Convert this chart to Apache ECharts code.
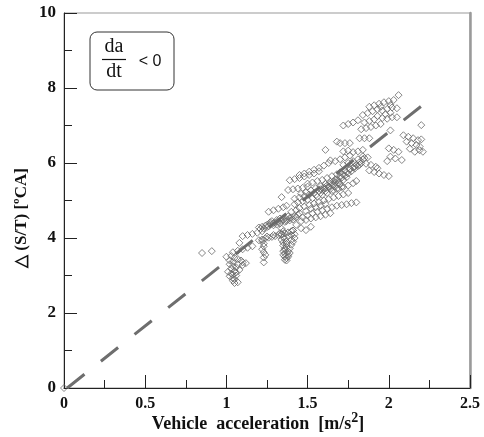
<!DOCTYPE html>
<html>
<head>
<meta charset="utf-8">
<script src="https://cdn.jsdelivr.net/npm/echarts@6/dist/echarts.min.js"></script>
<style>
html,body{margin:0;padding:0;background:#fff;}
#chart{width:484px;height:437px;}
</style>
</head>
<body>
<div id="chart"></div>
<script>
// Axis ranges and tick steps
const xTicks = [0, 0.5, 1, 1.5, 2, 2.5];
const yTicks = [0, 2, 4, 6, 8, 10];

// Fitted trend line end points [acceleration, delta S/T]
const trendLine = [[0.02, 0], [2.21, 7.55]];

// Measured points, grouped by streak
const originPoint = [[0, 0]];
const lowLeft = [[0.85, 3.60], [0.91, 3.65]];
const clusterLow = [
  [1.00,3.50],[1.03,3.52],[1.05,3.47],[1.07,3.44],[1.09,3.40],[1.10,3.35],[1.02,3.30],[1.04,3.25],
  [1.06,3.22],[1.03,3.18],[1.05,3.12],[1.01,3.10],[1.03,3.05],[1.06,3.08],[1.08,3.15],[1.02,2.98],
  [1.04,2.93],[1.06,3.00],[1.04,2.86],[1.07,2.82],[1.05,2.80],[1.10,3.28],[1.12,3.33],
  [1.02,3.40],[1.04,3.36],[1.07,3.30],[1.04,3.02],[1.05,2.90]
];
const rowA = [[1.04,3.62],[1.07,3.66],[1.10,3.70],[1.13,3.74],[1.16,3.78],[1.08,3.87]];
const rowB = [[1.10,4.05],[1.13,4.08],[1.16,4.11],[1.19,4.14],[1.22,4.18]];
const darkBandUpper = [
  [1.20,4.28],[1.22,4.30],[1.24,4.33],[1.25,4.35],[1.27,4.37],[1.29,4.40],[1.30,4.41],[1.32,4.44],
  [1.34,4.46],[1.35,4.48],[1.37,4.50],[1.39,4.53],[1.40,4.55],[1.42,4.58],[1.44,4.62],[1.45,4.66],
  [1.23,4.25],[1.26,4.31],[1.31,4.36],[1.36,4.43],[1.41,4.49],[1.28,4.45],[1.33,4.52],[1.38,4.58],
  [1.21,4.24],[1.25,4.29],[1.29,4.34],[1.33,4.39],[1.37,4.45],[1.39,4.47],[1.43,4.55],[1.27,4.42],[1.31,4.48]
];
const darkBandLower = [
  [1.20,3.94],[1.22,3.96],[1.24,3.99],[1.26,4.01],[1.28,4.03],[1.30,4.05],[1.32,4.08],[1.34,4.10],
  [1.36,4.12],[1.38,4.15],[1.40,4.18],[1.41,4.20],[1.25,4.04],[1.29,4.08],[1.33,4.13]
];
const dropA = [[1.22,3.92],[1.23,3.85],[1.23,3.78],[1.22,3.70],[1.23,3.62],[1.24,3.55],[1.23,3.48],[1.23,3.35]];
const dropB = [
  [1.34,4.25],[1.35,4.18],[1.34,4.10],[1.35,4.02],[1.34,3.95],[1.35,3.88],[1.35,3.80],[1.36,3.72],
  [1.35,3.65],[1.36,3.58],[1.36,3.50],[1.36,3.42],[1.37,3.46],[1.38,3.55],[1.38,3.64],[1.39,3.72],
  [1.40,3.82],[1.41,3.90],[1.42,4.00],[1.42,4.10],[1.41,4.20],[1.37,3.90],[1.38,4.05],[1.37,3.76],[1.39,3.60],
  [1.35,3.55],[1.36,3.68],[1.37,3.84],[1.36,3.98],[1.40,3.95],[1.40,4.08],[1.38,3.50],[1.37,3.40]
];
const rowC = [[1.26,4.70],[1.29,4.74],[1.32,4.78],[1.35,4.82],[1.37,4.86],[1.34,5.09]];
const rowD = [[1.38,5.28],[1.41,5.30],[1.44,5.32],[1.47,5.34],[1.50,5.37]];
const rowE = [[1.39,5.54],[1.42,5.57],[1.45,5.60],[1.48,5.64],[1.51,5.68],[1.54,5.72],[1.57,5.78]];
const bandMid = [
  [1.42,5.05],[1.45,5.08],[1.48,5.12],[1.51,5.16],[1.54,5.20],[1.57,5.25],[1.60,5.30],[1.63,5.36],
  [1.66,5.42],[1.69,5.48],[1.72,5.55],[1.74,5.62],[1.44,4.95],[1.47,4.98],[1.50,5.02],[1.53,5.06],
  [1.56,5.10],[1.59,5.15],[1.62,5.20],[1.65,5.25],[1.68,5.31],[1.71,5.36],[1.46,5.18],[1.49,5.22],
  [1.52,5.27],[1.55,5.33],[1.58,5.38],[1.61,5.44],[1.64,5.50],[1.67,5.56],
  [1.55,5.14],[1.58,5.20],[1.61,5.25],[1.64,5.31],[1.67,5.37],[1.70,5.43]
];
const darkDiagonal = [
  [1.58,5.30],[1.60,5.35],[1.62,5.40],[1.64,5.45],[1.66,5.51],[1.68,5.57],[1.70,5.63],[1.72,5.69],
  [1.74,5.75],[1.76,5.82],[1.78,5.88],[1.80,5.95],[1.82,6.02],[1.84,6.10],[1.61,5.32],[1.65,5.42],
  [1.69,5.53],[1.73,5.66],[1.77,5.78],[1.81,5.92],
  [1.59,5.28],[1.63,5.38],[1.67,5.49],[1.71,5.61],[1.75,5.72],[1.79,5.85],[1.83,5.99],[1.85,6.13]
];
const bandLow = [
  [1.47,4.55],[1.50,4.60],[1.53,4.66],[1.56,4.70],[1.59,4.74],[1.62,4.78],[1.65,4.82],[1.68,4.86],
  [1.71,4.88],[1.74,4.90],[1.77,4.93],[1.80,4.95],[1.49,4.72],[1.52,4.78],[1.55,4.82],[1.58,4.86],
  [1.61,4.90],[1.49,4.21],[1.46,4.26],[1.52,4.30]
];
const massMid = [
  [1.46,4.45],[1.49,4.48],[1.52,4.52],[1.55,4.55],[1.58,4.58],[1.61,4.62],[1.64,4.66],
  [1.45,4.80],[1.48,4.84],[1.51,4.88],[1.54,4.92],[1.57,4.96],[1.60,5.00],[1.63,5.04],[1.66,5.08],
  [1.69,5.12],[1.72,5.16],[1.75,5.20],[1.50,5.45],[1.53,5.48],[1.56,5.52],[1.59,5.55],[1.62,5.60],
  [1.65,5.65],[1.68,5.70],[1.43,4.35],[1.40,4.70],[1.43,4.74],[1.42,4.90]
];
const bandRight = [
  [1.66,5.27],[1.69,5.31],[1.72,5.36],[1.75,5.40],[1.78,5.46],[1.80,5.52],
  [1.86,5.98],[1.89,5.95],[1.92,5.90],[1.88,5.80],[1.91,5.76],[1.94,5.72],[1.97,5.68],[2.00,5.65],[1.93,5.86]
];
const rowF = [[1.45,5.68],[1.48,5.72],[1.51,5.77],[1.54,5.82],[1.57,5.87],[1.60,5.93],[1.63,6.00],[1.64,6.07]];
const massUpper = [
  [1.70,5.75],[1.73,5.80],[1.76,5.85],[1.79,5.90],[1.82,5.95],[1.72,5.95],[1.75,6.00],[1.78,6.05],
  [1.81,6.10],[1.84,6.18],[1.70,6.10],[1.73,6.15],[1.76,6.20],[1.67,6.05],[1.87,6.15]
];
const rowsHigh = [
  [1.72,7.00],[1.75,7.04],[1.78,7.08],[1.81,7.14],
  [1.83,6.90],[1.86,6.93],[1.89,6.96],[1.82,6.66],[1.85,6.66],[1.88,6.66],
  [1.70,6.53],[1.73,6.53],[1.76,6.53],[1.68,6.57],
  [1.72,6.31],[1.75,6.33],[1.78,6.29],[1.81,6.31],[1.84,6.35],[1.61,6.35],
  [2.01,6.87],[2.20,7.01]
];
const topCluster = [
  [2.06,7.81],[2.03,7.68],[2.00,7.65],[1.97,7.62],[1.94,7.58],[1.91,7.54],[1.88,7.50],[1.95,7.50],
  [2.01,7.55],[1.84,7.28],[1.87,7.33],[1.90,7.38],[1.93,7.43],[1.96,7.40],[1.99,7.44],[2.02,7.48],
  [2.05,7.46],[1.98,7.30],[2.01,7.34],[1.93,7.25],[1.96,7.20],[1.85,7.08],[1.88,7.12],[1.91,7.16],
  [1.99,7.18],[2.02,7.22],[2.05,7.22],[1.92,7.00],[1.95,7.04]
];
const rightGroup = [
  [2.09,6.74],[2.12,6.70],[2.15,6.66],[2.18,6.61],[2.20,6.63],[2.11,6.57],[2.14,6.53],[2.17,6.48],
  [2.19,6.44],[2.19,6.34],[2.16,6.30],[2.21,6.30],[2.13,6.38]
];
const midRightGroup = [[2.00,6.39],[2.03,6.35],[2.06,6.30],[2.01,6.17],[2.04,6.12],[2.08,6.08],[1.99,6.05]];

const allPoints = [].concat(
  originPoint, lowLeft, clusterLow, rowA, rowB, darkBandUpper, darkBandLower, dropA, dropB,
  rowC, rowD, rowE, bandMid, darkDiagonal, bandLow, massMid, bandRight, rowF, massUpper,
  rowsHigh, topCluster, rightGroup, midRightGroup
);

const serif = 'Liberation Serif, Times New Roman, serif';
const axisColor = '#222';

const chart = echarts.init(document.getElementById('chart'), null, {renderer: 'canvas'});
chart.setOption({
  animation: false,
  backgroundColor: '#fff',
  grid: {left: 64, right: 14, top: 13, bottom: 49, show: true, borderColor: '#999', borderWidth: 1},
  xAxis: {
    type: 'value', min: xTicks[0], max: xTicks[xTicks.length - 1], interval: xTicks[1] - xTicks[0],
    axisLine: {lineStyle: {color: axisColor, width: 1}},
    axisTick: {inside: true, length: 13, lineStyle: {color: axisColor}},
    minorTick: {show: true, splitNumber: 2, length: 8, lineStyle: {color: axisColor}},
    splitLine: {show: false},
    axisLabel: {fontFamily: serif, fontWeight: 'bold', fontSize: 16, color: '#111', margin: 8,
      formatter: v => String(v)}
  },
  yAxis: [{
    type: 'value', min: yTicks[0], max: yTicks[yTicks.length - 1], interval: yTicks[1] - yTicks[0],
    axisLine: {lineStyle: {color: axisColor, width: 1}},
    axisTick: {inside: true, length: 13, lineStyle: {color: axisColor}},
    minorTick: {show: true, splitNumber: 2, length: 8, lineStyle: {color: axisColor}},
    splitLine: {show: false},
    axisLabel: {fontFamily: serif, fontWeight: 'bold', fontSize: 17, color: '#111', margin: 8}
  }, {
    type: 'value', position: 'right', min: 0, max: 10,
    axisLine: {show: true, lineStyle: {color: '#9a9a9a', width: 2.5}},
    axisTick: {show: false}, axisLabel: {show: false}, splitLine: {show: false}
  }],
  series: [{
    type: 'line', data: trendLine, symbol: 'none', silent: true, z: 1,
    lineStyle: {type: [22, 21], width: 3, color: '#6e6e6e', cap: 'butt'}
  }, {
    type: 'scatter', data: allPoints, symbol: 'diamond', symbolSize: 7, z: 2, silent: true,
    itemStyle: {color: 'rgba(0,0,0,0)', borderColor: '#686868', borderWidth: 1}
  }],
  graphic: [
    {type: 'rect', shape: {x: 90, y: 32, width: 84, height: 58, r: 7},
      style: {fill: '#fff', stroke: '#333', lineWidth: 1}, z: 10},
    {type: 'text', x: 114, y: 47, z: 11,
      style: {text: 'da', font: '20px ' + serif, fill: '#111', align: 'center', verticalAlign: 'middle'}},
    {type: 'line', shape: {x1: 102, y1: 59.5, x2: 126, y2: 59.5}, style: {stroke: '#111', lineWidth: 1.2}, z: 11},
    {type: 'text', x: 114, y: 72, z: 11,
      style: {text: 'dt', font: '20px ' + serif, fill: '#111', align: 'center', verticalAlign: 'middle'}},
    {type: 'text', x: 150, y: 62, z: 11,
      style: {text: '< 0', font: '16px Liberation Sans, Arial, sans-serif', fill: '#111', align: 'center', verticalAlign: 'middle'}},
    {type: 'text', x: 258, y: 424, z: 11,
      style: {text: '{t|Vehicle  acceleration  [m/s}{s|2}{t|]}', align: 'center', verticalAlign: 'middle',
        rich: {
          t: {font: 'bold 18px ' + serif, fill: '#111', lineHeight: 26},
          s: {font: 'bold 14px ' + serif, fill: '#111', lineHeight: 16, verticalAlign: 'top'}
        }}},
    {type: 'text', x: 22, y: 218, rotation: Math.PI / 2, z: 11,
      style: {text: '△ (S/T) [ºCA]', font: 'bold 17px ' + serif, fill: '#111', align: 'center', verticalAlign: 'middle'}}
  ]
});
</script>
</body>
</html>
